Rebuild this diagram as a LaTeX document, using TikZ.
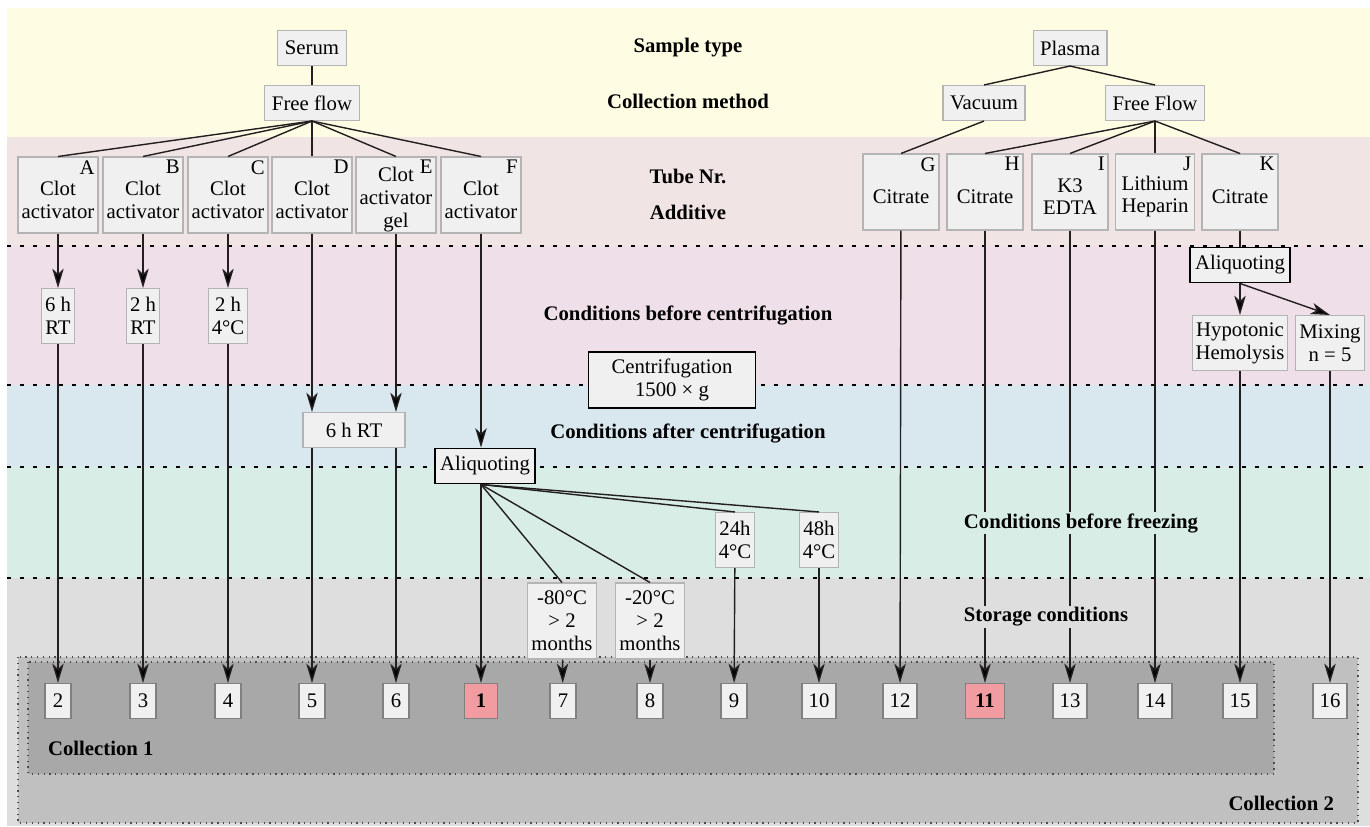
\documentclass[tikz,border=0pt]{standalone}
\usepackage{fontspec}
\setmainfont{Liberation Serif}
\newfontfamily\figfont{Liberation Serif}
\usetikzlibrary{arrows.meta}

\definecolor{bandyellow}{HTML}{FEFCE2}
\definecolor{bandrose}{HTML}{F1E4E4}
\definecolor{bandpink}{HTML}{EEDFE8}
\definecolor{bandblue}{HTML}{D8E8EE}
\definecolor{bandgreen}{HTML}{D8EDE6}
\definecolor{bandgray}{HTML}{DEDEDE}
\definecolor{coltwo}{HTML}{C0C0C0}
\definecolor{colone}{HTML}{A8A8A8}
\definecolor{boxfill}{HTML}{F0F0F0}
\definecolor{boxline}{HTML}{B4B4B4}
\definecolor{hitfill}{HTML}{F09CA0}
\definecolor{linecol}{HTML}{231F20}

\begin{document}
\begin{tikzpicture}[x=0.02cm,y=-0.02cm,>={Stealth[length=11pt,width=6.5pt,inset=3pt]},
  every node/.style={font=\figfont\fontsize{11.8}{13}\selectfont},
  box node/.style={draw=boxline,fill=boxfill,line width=0.6pt,align=center,inner sep=2pt},
  top node/.style={box node,inner xsep=4pt,minimum height=0.7cm},
  tube node/.style={box node,minimum width=1.6cm,minimum height=1.52cm},
  tube text/.style={align=center,inner sep=0pt,yshift=-2.6pt},
  cond node/.style={box node,minimum height=1.1cm},
  proc node/.style={box node,draw=black,line width=1.1pt,inner xsep=3pt,minimum height=0.7cm},
  res node/.style={box node,draw=gray,minimum width=0.52cm,minimum height=0.7cm,inner sep=1pt},
  hit node/.style={res node,fill=hitfill,font=\figfont\fontsize{11.8}{13}\selectfont\bfseries},
  head node/.style={font=\figfont\fontsize{11.8}{13}\selectfont\bfseries,inner sep=1pt},
  letter/.style={anchor=north east,inner sep=2pt},
  sep line/.style={draw=black,line width=0.9pt,dash pattern=on 2.3pt off 5.1pt},
  coll box/.style={draw=black!70,line width=0.7pt,dash pattern=on 0.7pt off 2.6pt},
  link/.style={draw=linecol,line width=0.8pt}]

\useasboundingbox (0,0) rectangle (1370,826);

% bands
\fill[bandyellow] (7,8) rectangle (1370,137);
\fill[bandrose] (7,137) rectangle (1370,246);
\fill[bandpink] (7,246) rectangle (1370,385);
\fill[bandblue] (7,385) rectangle (1370,467);
\fill[bandgreen] (7,467) rectangle (1370,578);
\fill[bandgray] (7,578) rectangle (1370,826);
\foreach \y in {246,385,467,578}
  \draw[sep line] (7,\y) -- (1370,\y);

\draw[coll box,fill=coltwo] (18,657) rectangle (1358,823);
\draw[coll box,fill=colone] (28,662) rectangle (1274,774);

% headings
\node[head node] (hsample) at (688,48) {Sample type};
\node[head node] (hmethod) at (688,101) {Collection method};
\node[head node] (htube) at (688,176) {Tube Nr.};
\node[head node] (hadd) at (688,212) {Additive};
\node[head node] (hbefore) at (688,315) {Conditions before centrifugation};
\node[head node] (hafter) at (688,433) {Conditions after centrifugation};
\node[head node,anchor=west] (hcol1) at (46,748) {Collection 1};
\node[head node,anchor=east] (hcol2) at (1336,803) {Collection 2};

% sample type and collection
\node[top node] (serum) at (312,48) {Serum};
\node[top node] (ff) at (312,103) {Free flow};
\node[top node] (plasma) at (1070,48) {Plasma};
\node[top node] (vac) at (984,103) {Vacuum};
\node[top node] (ffl) at (1155,103) {Free Flow};

% tubes
\node[tube node,label={[letter]north east:A},label={[tube text]center:{Clot\\activator}}] (tA) at (58,195) {};
\node[tube node,label={[letter]north east:B},label={[tube text]center:{Clot\\activator}}] (tB) at (143,195) {};
\node[tube node,label={[letter]north east:C},label={[tube text]center:{Clot\\activator}}] (tC) at (228,195) {};
\node[tube node,label={[letter]north east:D},label={[tube text]center:{Clot\\activator}}] (tD) at (312,195) {};
\node[tube node,label={[letter]north east:E},label={[tube text]center:{Clot\\activator\\gel}}] (tE) at (396,195) {};
\node[tube node,label={[letter]north east:F},label={[tube text]center:{Clot\\activator}}] (tF) at (481,195) {};
\node[tube node,minimum width=1.52cm,label={[letter]north east:G},label={[tube text]center:Citrate}] (tG) at (901,192) {};
\node[tube node,minimum width=1.52cm,label={[letter]north east:H},label={[tube text]center:Citrate}] (tH) at (985,192) {};
\node[tube node,minimum width=1.52cm,label={[letter]north east:I},label={[tube text]center:{K3\\EDTA}}] (tI) at (1070,192) {};
\node[tube node,minimum width=1.58cm,label={[letter]north east:J},label={[tube text]center:{Lithium\\Heparin}}] (tJ) at (1155,192) {};
\node[tube node,minimum width=1.52cm,label={[letter]north east:K},label={[tube text]center:Citrate}] (tK) at (1240,192) {};

% conditions
\node[cond node] (cA) at (58,316) {6 h\\RT};
\node[cond node] (cB) at (143,316) {2 h\\RT};
\node[cond node] (cC) at (228,316) {2 h\\4°C};
\node[proc node,minimum width=3.34cm,minimum height=1.12cm] (cent) at (672,380) {Centrifugation\\1500 × g};
\node[box node,minimum width=2.04cm,minimum height=0.7cm] (sixrt) at (354,430) {6 h RT};
\node[proc node] (aliq) at (485,466) {Aliquoting};
\node[proc node] (aliqK) at (1240,265) {Aliquoting};
\node[cond node] (hypo) at (1240,343) {Hypotonic\\Hemolysis};
\node[cond node] (mix) at (1330,343) {Mixing\\n = 5};
\node[cond node] (h24) at (735,540) {24h\\4°C};
\node[cond node] (h48) at (819,540) {48h\\4°C};
\node[box node,minimum height=1.52cm] (m80) at (562,621) {-80°C\\> 2\\months};
\node[box node,minimum height=1.52cm] (m20) at (650,621) {-20°C\\> 2\\months};

% result tubes
\node[res node] (r2) at (58,701) {2};
\node[res node] (r3) at (143,701) {3};
\node[res node] (r4) at (228,701) {4};
\node[res node] (r5) at (312,701) {5};
\node[res node] (r6) at (396,701) {6};
\node[hit node,minimum width=0.66cm] (r1) at (481,701) {1};
\node[res node] (r7) at (563,701) {7};
\node[res node] (r8) at (650,701) {8};
\node[res node] (r9) at (734,701) {9};
\node[res node,minimum width=0.68cm] (r10) at (819,701) {10};
\node[res node,minimum width=0.68cm] (r12) at (900,701) {12};
\node[hit node,minimum width=0.78cm] (r11) at (985,701) {11};
\node[res node,minimum width=0.68cm] (r13) at (1070,701) {13};
\node[res node,minimum width=0.68cm] (r14) at (1155,701) {14};
\node[res node,minimum width=0.68cm] (r15) at (1240,701) {15};
\node[res node,minimum width=0.68cm] (r16) at (1330,701) {16};

\coordinate (fan) at (aliq.south -| tF);

\path[link]
  (serum) edge (ff)
  (ff.south) edge (tA.north) edge (tB.north) edge (tC.north)
    edge (tD.north) edge (tE.north) edge (tF.north)
  (plasma.south) edge (vac.north) edge (ffl.north)
  (vac.south) edge (tG.north)
  (ffl.south) edge (tH.north) edge (tI.north) edge (tJ.north) edge (tK.north)
  (tA) edge[->] (cA)
  (tB) edge[->] (cB)
  (tC) edge[->] (cC)
  (tD) edge[->] (tD |- sixrt.north)
  (tE) edge[->] (tE |- sixrt.north)
  (tF) edge[->] (tF |- aliq.north)
  (tK) edge (aliqK)
  (aliqK) edge[->] (hypo)
  (aliqK.south) edge[->] (mix.north)
  (fan) edge (m80.north) edge (m20.north) edge (h24.north) edge (h48.north)
  (cA) edge[->] (r2)
  (cB) edge[->] (r3)
  (cC) edge[->] (r4)
  (sixrt.south -| tD) edge[->] (r5)
  (sixrt.south -| tE) edge[->] (r6)
  (fan) edge[->] (r1)
  (m80) edge[->] (r7)
  (m20) edge[->] (r8)
  (h24) edge[->] (r9)
  (h48) edge[->] (r10)
  (tG) edge[->] (r12)
  (tH) edge[->] (r11)
  (tI) edge[->] (r13)
  (tJ) edge[->] (r14)
  (hypo) edge[->] (r15)
  (mix) edge[->] (r16);

% labels over the lines
\node[head node,fill=bandgreen] (hfreeze) at (1081,523) {Conditions before freezing};
\node[head node,fill=bandgray] (hstore) at (1046,617) {Storage conditions};

\end{tikzpicture}
\end{document}
